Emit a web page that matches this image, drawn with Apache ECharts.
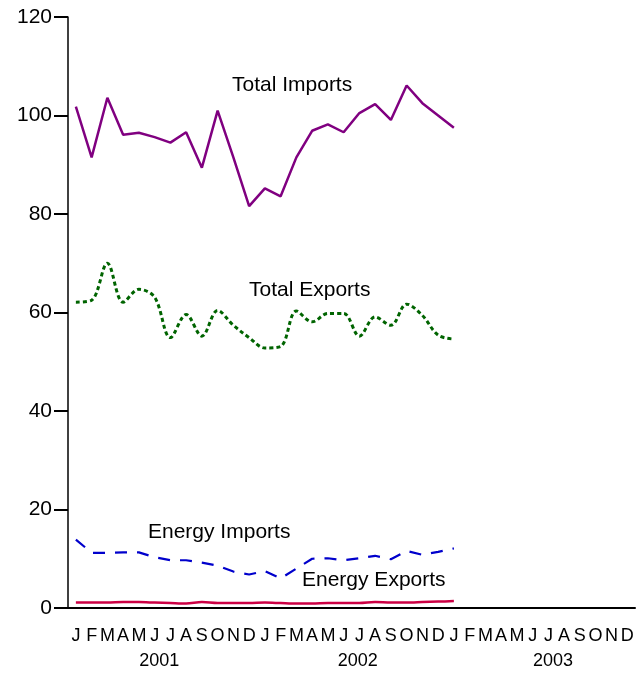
<!DOCTYPE html>
<html>
<head>
<meta charset="utf-8">
<script src="https://cdn.jsdelivr.net/npm/echarts@6/dist/echarts.min.js"></script>
<style>html,body{margin:0;padding:0;background:#fff}#c{width:642px;height:673px}</style>
</head>
<body>
<div id="c"></div>
<script>
const months = ['J','F','M','A','M','J','J','A','S','O','N','D','J','F','M','A','M','J','J','A','S','O','N','D','J','F','M','A','M','J','J','A','S','O','N','D'];
const years = ['2001','2002','2003'];
const yearPos = [5.3, 17.9, 30.3];
const yTicks = [0, 20, 40, 60, 80, 100, 120];
const totalImports = [101.8,91.5,103.6,96.1,96.5,95.6,94.5,96.6,89.4,101.0,91.5,81.6,85.2,83.6,91.5,96.9,98.2,96.6,100.5,102.3,99.1,106.1,102.5,100.0,97.5];
const totalExports = [62.1,62.5,70.0,62.1,64.7,63.1,54.9,59.6,55.2,60.4,57.4,54.9,52.8,53.1,60.3,58.1,59.8,59.8,55.2,59.1,57.4,61.7,59.4,55.4,54.6];
const energyImports = [13.9,11.2,11.2,11.3,11.3,10.3,9.7,9.7,9.2,8.6,7.4,6.8,7.5,6.0,8.0,10.0,10.1,9.7,10.1,10.6,9.9,11.6,10.8,11.4,12.1];
const energyExports = [1.1,1.1,1.1,1.2,1.2,1.1,1.0,0.9,1.2,1.0,1.0,1.0,1.1,1.0,0.9,0.9,1.0,1.0,1.0,1.2,1.1,1.1,1.2,1.3,1.4];
const seriesNames = ['Total Imports','Total Exports','Energy Imports','Energy Exports'];

const chart = echarts.init(document.getElementById('c'));
const font = 'Liberation Sans, Arial, sans-serif';
chart.setOption({
  animation: false,
  grid: {left: 68, right: 7, top: 17, bottom: 65},
  xAxis: [{
    type: 'category',
    data: months,
    boundaryGap: true,
    axisLine: {lineStyle: {color: '#000', width: 2}},
    axisTick: {alignWithLabel: true, interval: 0, length: 14, lineStyle: {color: '#555', width: 1}},
    axisLabel: {interval: 0, color: '#000', fontSize: 18, fontFamily: font, margin: 19}
  }, {
    type: 'value',
    position: 'bottom',
    min: -0.5, max: 35.5,
    axisLine: {show: false, onZero: false}, axisTick: {show: false}, splitLine: {show: false},
    axisLabel: {
      customValues: yearPos,
      formatter: function (v) { const i = yearPos.indexOf(v); return i >= 0 ? years[i] : ''; },
      color: '#000', fontSize: 18, fontFamily: font, margin: 44
    }
  }],
  yAxis: {
    type: 'value', min: 0, max: 120, interval: 20,
    axisLine: {show: true, onZero: false, lineStyle: {color: '#000', width: 1.5}},
    axisTick: {show: true, length: 14, lineStyle: {color: '#000', width: 2}},
    axisLabel: {color: '#000', fontSize: 21, fontFamily: font, margin: 16,
      formatter: function (v) { return yTicks.indexOf(v) >= 0 ? String(v) : ''; }},
    splitLine: {show: false}
  },
  series: [
    {name: seriesNames[0], type: 'line', data: totalImports, symbol: 'none', lineStyle: {color: '#800080', width: 2.5}},
    {name: seriesNames[1], type: 'line', data: totalExports, symbol: 'none', smooth: 0.35, lineStyle: {color: '#006400', width: 3, type: [4, 3]}},
    {name: seriesNames[2], type: 'line', data: energyImports, symbol: 'none', lineStyle: {color: '#0000CC', width: 2.2, type: [12, 10]}},
    {name: seriesNames[3], type: 'line', data: energyExports, symbol: 'none', smooth: 0.3, lineStyle: {color: '#CC0044', width: 2.5}}
  ],
  graphic: [
    {type: 'text', left: 232, top: 75, style: {text: seriesNames[0], fill: '#000', font: '21px ' + font}},
    {type: 'text', left: 249, top: 280, style: {text: seriesNames[1], fill: '#000', font: '21px ' + font}},
    {type: 'text', left: 148, top: 522, style: {text: seriesNames[2], fill: '#000', font: '21px ' + font}},
    {type: 'text', left: 302, top: 570, style: {text: seriesNames[3], fill: '#000', font: '21px ' + font}}
  ]
});
</script>
</body>
</html>
